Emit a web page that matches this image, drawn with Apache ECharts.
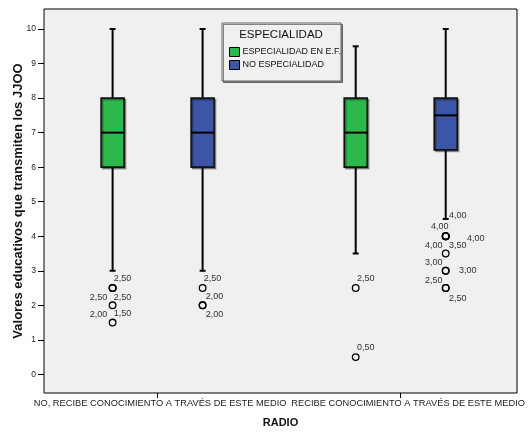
<!DOCTYPE html>
<html><head><meta charset="utf-8">
<script src="https://cdn.jsdelivr.net/npm/echarts@6/dist/echarts.min.js"></script>
<style>html,body{margin:0;padding:0;background:#fff}#chart{width:530px;height:435px}</style>
</head><body><div id="chart"></div>
<script>
// ---------- DATA ----------
const categories = ['NO, RECIBE CONOCIMIENTO A TRAVÉS DE ESTE MEDIO', 'RECIBE CONOCIMIENTO A TRAVÉS DE ESTE MEDIO'];
const seriesNames = ['ESPECIALIDAD EN E.F.', 'NO ESPECIALIDAD'];
// [lower whisker, Q1, median, Q3, upper whisker] per category
const boxEspecialidad = [[3, 6, 7, 8, 10], [3.5, 6, 7, 8, 9.5]];
const boxNoEspecialidad = [[3, 6, 7, 8, 10], [4.5, 6.5, 7.5, 8, 10]];
// outlier cases per category
const outliersEspecialidad = [[2.5, 2.5, 2.5, 2.0, 1.5], [2.5, 0.5]];
const outliersNoEspecialidad = [[2.5, 2.0, 2.0], [4, 4, 4, 4, 3.5, 3, 3, 2.5, 2.5]];
const yTicks = [0, 1, 2, 3, 4, 5, 6, 7, 8, 9, 10];
const legendTitle = 'ESPECIALIDAD';
const xTitle = 'RADIO';
const yTitle = 'Valores educativos que transmiten los JJOO';

// ---------- STYLE / LAYOUT ----------
const FONT = '"Liberation Sans", Arial, sans-serif';
const colors = ['#2eb84b', '#3d55a6'];
const boxOffsets = [-45, 45];        // px offset of each series within a category
const BOX_W = 23, CAP_W = 6;
// label offsets (px, relative to outlier circle) [series][category][case]
const labelOffsets = [
  [[[10, -10], [-14, 9], [10, 9], [-14, 9], [10, -9]], [[10, -10], [10, -10]]],
  [[[10, -10], [12, -9], [12, 9]], [[12, -21], [-6, -10], [30, 2], [-12, 9], [12, -8], [-12, -8], [22, 0], [-12, -8], [12, 10]]]
];
const catLabelShift = [5, 15];

const boxData = [boxEspecialidad, boxNoEspecialidad];
const outData = [outliersEspecialidad, outliersNoEspecialidad];
const fmt = v => v.toFixed(2).replace('.', ',');

function boxRender(s) {
  return function (params, api) {
    const cat = api.value(0);
    const x = api.coord([cat, 0])[0] + boxOffsets[s];
    const y = [1, 2, 3, 4, 5].map(i => api.coord([cat, api.value(i)])[1]);
    const hw = BOX_W / 2, cw = CAP_W / 2;
    const ls = { stroke: '#000', lineWidth: 2 };
    return { type: 'group', children: [
      { type: 'line', shape: { x1: x, y1: y[4], x2: x, y2: y[3] }, style: ls },
      { type: 'line', shape: { x1: x, y1: y[1], x2: x, y2: y[0] }, style: ls },
      { type: 'line', shape: { x1: x - cw, y1: y[4], x2: x + cw, y2: y[4] }, style: ls },
      { type: 'line', shape: { x1: x - cw, y1: y[0], x2: x + cw, y2: y[0] }, style: ls },
      { type: 'rect', shape: { x: x - hw, y: y[3], width: BOX_W, height: y[1] - y[3] },
        style: { fill: colors[s], stroke: '#111', lineWidth: 1.6, shadowColor: 'rgba(0,0,0,0.35)', shadowOffsetX: 1.5, shadowOffsetY: 1.5, shadowBlur: 0 } },
      { type: 'line', shape: { x1: x - hw, y1: y[2], x2: x + hw, y2: y[2] }, style: ls }
    ] };
  };
}
function outRender(s) {
  return function (params, api) {
    const cat = api.value(0), v = api.value(1), k = api.value(2);
    const p = api.coord([cat, v]);
    const x = p[0] + boxOffsets[s], y = p[1];
    const off = labelOffsets[s][cat][k];
    return { type: 'group', children: [
      { type: 'circle', shape: { cx: x, cy: y, r: 3.3 }, style: { fill: 'none', stroke: '#000', lineWidth: 1.3 } },
      { type: 'text', x: x + off[0], y: y + off[1],
        style: { text: fmt(v), fill: '#333', font: '9px ' + FONT, align: 'center', verticalAlign: 'middle' } }
    ] };
  };
}

const series = [];
for (let s = 0; s < 2; s++) {
  series.push({
    name: seriesNames[s], type: 'custom', renderItem: boxRender(s),
    itemStyle: { color: colors[s] },
    encode: { x: 0, y: [1, 2, 3, 4, 5] },
    data: boxData[s].map((b, c) => [c].concat(b))
  });
}
for (let s = 0; s < 2; s++) {
  const d = [];
  outData[s].forEach((arr, c) => arr.forEach((v, k) => d.push([c, v, k])));
  series.push({
    name: 'outliers' + s, type: 'custom', renderItem: outRender(s),
    encode: { x: 0, y: 1 }, data: d, z: 5
  });
}

const chart = echarts.init(document.getElementById('chart'), null, { renderer: 'canvas' });
chart.setOption({
  backgroundColor: '#fff',
  animation: false,
  textStyle: { fontFamily: FONT },
  title: {
    text: legendTitle, left: 281, top: 29, padding: 0, textAlign: 'center',
    textStyle: { fontSize: 11.5, fontWeight: 'normal', color: '#111', fontFamily: FONT }, z: 10
  },
  legend: {
    data: seriesNames, orient: 'vertical', left: 222, top: 23,
    padding: [24, 0, 11, 7], itemGap: 3, itemWidth: 10, itemHeight: 9, icon: 'rect',
    backgroundColor: '#f0f0f0', borderColor: '#666', borderWidth: 1,
    shadowColor: 'rgba(0,0,0,0.45)', shadowOffsetX: 1.5, shadowOffsetY: 1.5, shadowBlur: 0,
    itemStyle: { borderColor: '#000', borderWidth: 1 },
    textStyle: { fontSize: 9, color: '#111', fontFamily: FONT, padding: [0, 0, 0, -2] },
    selectedMode: false, z: 9
  },
  grid: {
    left: 44, right: 13, top: 9, bottom: 42, show: true,
    backgroundColor: '#f0f0f0', borderColor: '#000', borderWidth: 1
  },
  xAxis: {
    type: 'value', min: -0.4673, max: 1.4784,
    name: xTitle, nameLocation: 'middle', nameGap: 24, nameMoveOverlap: false,
    nameTextStyle: { fontSize: 11, fontWeight: 'bold', color: '#111', fontFamily: FONT },
    axisLine: { show: false, onZero: false }, splitLine: { show: false },
    axisTick: { show: true, length: 5, customValues: [0, 1], lineStyle: { color: '#000', width: 1 } },
    axisLabel: {
      customValues: [0, 1], margin: 6, color: '#222', fontSize: 9.3,
      formatter: v => '{c' + Math.round(v) + '|' + categories[Math.round(v)] + '}',
      rich: {
        c0: { fontSize: 9.3, color: '#222', fontFamily: FONT, padding: [0, 0, 0, catLabelShift[0]] },
        c1: { fontSize: 9.3, color: '#222', fontFamily: FONT, padding: [0, 0, 0, catLabelShift[1]] }
      }
    }
  },
  yAxis: {
    type: 'value', min: -0.54, max: 10.58,
    name: yTitle, nameLocation: 'middle', nameGap: 19, nameMoveOverlap: false,
    nameTextStyle: { fontSize: 13, fontWeight: 'bold', color: '#111', fontFamily: FONT },
    axisLine: { show: false, onZero: false }, splitLine: { show: false },
    axisTick: { show: true, length: 6, customValues: yTicks, lineStyle: { color: '#000', width: 1 } },
    axisLabel: { customValues: yTicks, margin: 8, fontSize: 8.5, color: '#222' }
  },
  series: series
});
</script></body></html>
